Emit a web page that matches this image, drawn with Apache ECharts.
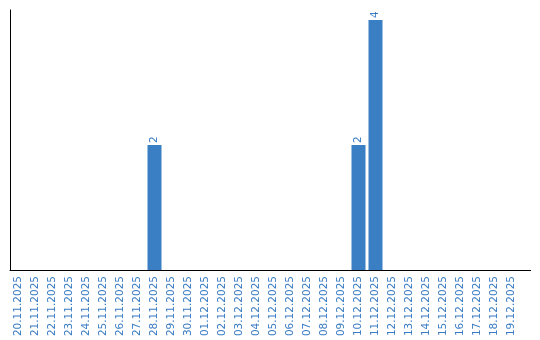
<!DOCTYPE html>
<html><head><meta charset="utf-8">
<script src="https://cdn.jsdelivr.net/npm/echarts@6/dist/echarts.min.js"></script>
<style>html,body{margin:0;padding:0;background:#fff}#c{width:540px;height:340px}</style>
</head><body><div id="c"></div>
<script>
const categories = ["20.11.2025","21.11.2025","22.11.2025","23.11.2025","24.11.2025","25.11.2025","26.11.2025","27.11.2025","28.11.2025","29.11.2025","30.11.2025","01.12.2025","02.12.2025","03.12.2025","04.12.2025","05.12.2025","06.12.2025","07.12.2025","08.12.2025","09.12.2025","10.12.2025","11.12.2025","12.12.2025","13.12.2025","14.12.2025","15.12.2025","16.12.2025","17.12.2025","18.12.2025","19.12.2025"];
const values = [0,0,0,0,0,0,0,0,2,0,0,0,0,0,0,0,0,0,0,0,2,4,0,0,0,0,0,0,0,0];
const chart = echarts.init(document.getElementById('c'));
chart.setOption({
  animation:false,
  grid:{left:10,right:20,top:10,bottom:70,containLabel:false},
  xAxis:{type:'category',data:categories,
    axisLine:{lineStyle:{color:'#000',width:1}},
    axisTick:{show:false},
    axisLabel:{rotate:90,interval:0,color:'#3a7cc3',fontSize:10.5,fontFamily:'DejaVu Sans',margin:6}},
  yAxis:{type:'value',min:0,max:4.16,
    axisLine:{show:true,lineStyle:{color:'#000',width:1}},
    axisTick:{show:false},axisLabel:{show:false},splitLine:{show:false}},
  series:[{type:'bar',data:values,barWidth:14,
    itemStyle:{color:'#3a7ec4'},
    label:{show:true,position:'top',rotate:90,align:'left',verticalAlign:'middle',distance:2,
      color:'#3a7cc3',fontSize:10.5,fontFamily:'DejaVu Sans',
      formatter:p=>p.value>0?p.value:''}}],
  graphic:[{type:'line',shape:{x1:520,y1:270.5,x2:531,y2:270.5},style:{stroke:'#000',lineWidth:1},silent:true}]
});
</script></body></html>
